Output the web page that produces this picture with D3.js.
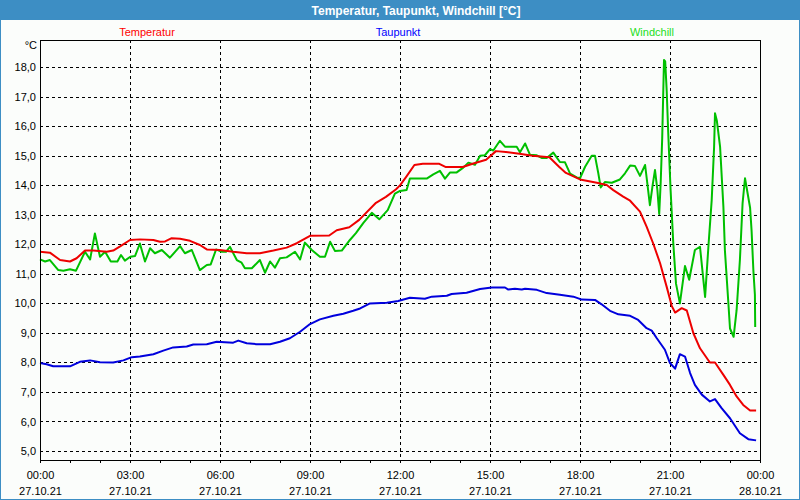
<!DOCTYPE html>
<html>
<head>
<meta charset="utf-8">
<script src="https://cdn.jsdelivr.net/npm/d3@7"></script>
<style>
  html, body { margin: 0; padding: 0; background: #ffffff; }
  svg { display: block; }
  text { font-family: "Liberation Sans", Arial, sans-serif; }
</style>
</head>
<body>
<svg id="chart" width="800" height="500"></svg>
<script>
// ---------------- data ----------------
const chartTitle = "Temperatur, Taupunkt, Windchill [°C]";
const seriesNames = ["Temperatur", "Taupunkt", "Windchill"];
const unitLabel = "°C";

const timeLabels = ["00:00","03:00","06:00","09:00","12:00","15:00","18:00","21:00","00:00"];
const dateLabels = ["27.10.21","27.10.21","27.10.21","27.10.21","27.10.21","27.10.21","27.10.21","27.10.21","28.10.21"];
const majorHours = [0,3,6,9,12,15,18,21,24];
const yTicks = [5,6,7,8,9,10,11,12,13,14,15,16,17,18];

// hours after 27.10.21 00:00
const tempHours = [0,0.33,0.67,1.0,1.22,1.5,1.78,2.22,2.44,2.67,3.0,3.33,3.78,4.0,4.17,4.39,4.67,5.0,5.33,5.56,
  6.0,6.44,6.89,7.33,7.78,8.22,8.56,9.0,9.64,9.89,10.31,10.64,11.2,11.53,11.87,12.0,12.2,12.48,12.76,13.31,
  13.53,14.09,14.42,14.87,15.2,15.53,15.98,16.42,16.98,17.31,17.53,18.0,18.56,18.89,19.11,19.44,19.67,20.0,20.22,20.44,
  20.67,20.89,21.06,21.17,21.39,21.56,21.78,22.0,22.33,22.5,22.78,23.0,23.22,23.44,23.67,23.87];
const tempValues = [11.75,11.72,11.47,11.42,11.53,11.79,11.79,11.75,11.79,11.93,12.15,12.17,12.15,12.09,12.1,12.21,12.19,12.12,11.98,11.83,
  11.81,11.75,11.70,11.70,11.79,11.89,12.04,12.29,12.30,12.48,12.58,12.83,13.41,13.61,13.87,14.0,14.28,14.69,14.73,14.73,
  14.62,14.62,14.73,14.87,15.16,15.13,15.07,15.0,14.95,14.62,14.42,14.2,14.09,14.01,13.84,13.62,13.48,13.11,12.6,12.03,
  11.36,10.56,9.91,9.69,9.84,9.76,8.99,8.48,8.0,8.0,7.58,7.24,6.85,6.56,6.37,6.37];

const dewHours = [0,0.22,0.44,1.0,1.33,1.67,2.0,2.44,2.78,3.06,3.33,3.78,4.11,4.44,4.89,5.11,5.56,5.89,6.44,6.61,
  6.89,7.22,7.67,8.0,8.33,8.67,9.0,9.33,9.78,10.11,10.44,10.67,11.0,11.56,11.94,12.33,12.83,13.06,13.56,13.72,
  14.22,14.67,15.06,15.5,15.61,15.83,16.06,16.17,16.56,16.89,17.33,17.78,18.06,18.5,18.72,19.0,19.28,19.67,19.94,20.22,
  20.39,20.56,20.83,21.0,21.17,21.33,21.5,21.67,21.83,22.06,22.33,22.5,22.72,23.0,23.33,23.61,23.87];
const dewValues = [7.98,7.94,7.87,7.87,8.02,8.07,8.01,8.0,8.07,8.18,8.2,8.28,8.4,8.51,8.54,8.61,8.62,8.7,8.67,8.74,
  8.65,8.62,8.62,8.7,8.82,9.04,9.3,9.46,9.58,9.65,9.75,9.83,10.0,10.02,10.08,10.19,10.16,10.23,10.26,10.32,
  10.36,10.49,10.54,10.54,10.47,10.5,10.47,10.5,10.46,10.35,10.29,10.23,10.13,10.12,9.97,9.75,9.63,9.58,9.44,9.16,
  9.08,8.82,8.43,7.98,7.79,8.28,8.2,7.64,7.24,6.91,6.68,6.76,6.45,6.11,5.6,5.4,5.36];

const chillHours = [0,0.17,0.33,0.61,0.78,1.0,1.2,1.5,1.67,1.83,2.0,2.17,2.36,2.58,2.7,2.83,3.01,3.17,3.33,3.5,
  3.67,3.83,4.06,4.33,4.67,4.83,5.06,5.33,5.56,5.69,5.87,6.06,6.2,6.33,6.56,6.72,6.83,7.06,7.33,7.5,
  7.67,7.83,8.0,8.22,8.5,8.67,8.83,9.06,9.33,9.5,9.67,9.83,10.06,10.33,10.53,10.78,11.06,11.31,11.59,11.83,
  12.0,12.22,12.33,12.89,13.11,13.33,13.5,13.67,13.89,14.11,14.28,14.5,14.67,14.83,15.0,15.11,15.33,15.5,15.89,16.0,
  16.17,16.33,16.56,16.72,16.89,17.11,17.33,17.5,17.67,17.89,18.0,18.17,18.39,18.5,18.61,18.69,18.83,19.06,19.33,19.5,
  19.67,19.83,20.0,20.17,20.24,20.33,20.42,20.5,20.58,20.64,20.69,20.74,20.8,20.84,20.89,20.94,21.02,21.11,21.2,21.33,
  21.5,21.64,21.83,22.0,22.17,22.28,22.39,22.47,22.5,22.56,22.67,22.78,22.83,22.94,23.0,23.12,23.22,23.33,23.42,23.5,
  23.67,23.72,23.78,23.83,23.84];
const chillValues = [11.49,11.42,11.47,11.13,11.11,11.16,11.11,11.75,11.49,12.37,11.58,11.75,11.42,11.42,11.64,11.45,11.58,11.61,12.03,11.42,
  11.87,11.7,11.81,11.55,11.94,11.7,11.81,11.13,11.3,11.32,11.83,11.75,11.75,11.92,11.47,11.38,11.19,11.19,11.47,11.04,
  11.42,11.21,11.53,11.56,11.75,11.49,12.06,11.81,11.58,11.58,12.09,11.78,11.79,12.15,12.38,12.73,13.07,12.85,13.16,13.72,
  13.81,13.84,14.23,14.23,14.37,14.49,14.23,14.44,14.44,14.6,14.77,14.7,15.0,15.02,15.23,15.18,15.51,15.31,15.31,15.12,
  15.42,15.04,15.02,14.93,14.93,15.11,14.79,14.78,14.4,14.27,14.24,14.63,15.0,15.0,14.41,13.93,14.11,14.09,14.2,14.41,
  14.67,14.66,14.32,14.69,14.1,13.33,14.0,14.52,13.84,13.03,14.1,15.6,18.25,18.2,17.2,15.8,13.84,12.03,10.67,10.0,
  11.27,10.8,11.81,11.92,10.22,11.92,13.5,15.3,16.44,16.2,15.3,13.27,11.8,10.1,9.15,8.87,9.77,11.47,13.4,14.24,
  13.24,12.45,11.1,10.3,9.2];

const seriesColors = ["#ee0000", "#0000dd", "#00c000"];
const legendColors = ["#ff0000", "#0000ff", "#22dd22"];

// ---------------- drawing ----------------
const W = 800, H = 500;
const m = { left: 40, right: 760, top: 40, bottom: 460 };
const svg = d3.select("#chart");

svg.append("rect").attr("x", 0).attr("y", 0).attr("width", W).attr("height", H).attr("fill", "#fbfdfb");
svg.append("rect").attr("x", 0).attr("y", 0).attr("width", W).attr("height", 20).attr("fill", "#3d8ec4");
svg.append("rect").attr("x", 0.5).attr("y", 0.5).attr("width", W - 1).attr("height", H - 1)
  .attr("fill", "none").attr("stroke", "#3d8ec4").attr("stroke-width", 1);

svg.append("text").attr("x", 416).attr("y", 15).attr("text-anchor", "middle")
  .attr("fill", "#ffffff").attr("font-weight", "bold").attr("font-size", 12)
  .text(chartTitle);

const x = d3.scaleLinear().domain([0, 24]).range([m.left, m.right]);
const y = d3.scaleLinear().domain([4.695, 18.925]).range([m.bottom, m.top]);

// legend
const legendX = [147, 398, 652];
seriesNames.forEach((n, i) => {
  svg.append("text").attr("x", legendX[i]).attr("y", 36).attr("text-anchor", "middle")
    .attr("font-size", 11).attr("fill", legendColors[i]).text(n);
});
svg.append("text").attr("x", 37).attr("y", 49).attr("text-anchor", "end")
  .attr("font-size", 11).attr("fill", "#000").text(unitLabel);

// grid
const grid = svg.append("g").attr("shape-rendering", "crispEdges");
grid.selectAll(".hg").data(yTicks).join("line")
  .attr("x1", m.left).attr("x2", m.right)
  .attr("y1", d => Math.round(y(d)) + 0.5).attr("y2", d => Math.round(y(d)) + 0.5)
  .attr("stroke", "#000").attr("stroke-width", 1).attr("stroke-dasharray", "3,3");
grid.selectAll(".vg").data(majorHours.slice(1, -1)).join("line")
  .attr("x1", d => Math.round(x(d)) + 0.5).attr("x2", d => Math.round(x(d)) + 0.5)
  .attr("y1", m.top).attr("y2", m.bottom)
  .attr("stroke", "#000").attr("stroke-width", 1).attr("stroke-dasharray", "3,3");

// y axis labels
const yAxis = d3.axisLeft(y).tickValues(yTicks).tickSize(0).tickPadding(4)
  .tickFormat(d => d3.format(".1f")(d).replace(".", ","));
const gy = svg.append("g").attr("transform", `translate(${m.left},0)`).call(yAxis);
gy.select(".domain").remove();
gy.selectAll("text").attr("font-size", 11).attr("font-family", "Liberation Sans, Arial, sans-serif").attr("fill", "#000");

// x axis: minor ticks every hour
const minor = d3.axisBottom(x).tickValues(d3.range(0, 25)).tickSize(3).tickFormat("");
const gmin = svg.append("g").attr("transform", `translate(0,${m.bottom})`).attr("shape-rendering", "crispEdges").call(minor);
gmin.select(".domain").remove();

const xAxis = d3.axisBottom(x).tickValues(majorHours).tickSize(3).tickPadding(8)
  .tickFormat((d, i) => timeLabels[i]);
const gx = svg.append("g").attr("transform", `translate(0,${m.bottom})`).attr("shape-rendering", "crispEdges").call(xAxis);
gx.select(".domain").remove();
gx.selectAll(".tick text").attr("font-size", 11).attr("font-family", "Liberation Sans, Arial, sans-serif").attr("fill", "#000")
  .each(function (d, i) {
    d3.select(this).append("tspan").attr("x", 0).attr("dy", "1.45em").text(dateLabels[i]);
  });

// lines
const line = d3.line().x(d => x(d[0])).y(d => y(d[1]));
const series = [
  d3.zip(tempHours, tempValues),
  d3.zip(dewHours, dewValues),
  d3.zip(chillHours, chillValues)
];
const lg = svg.append("g");
[2, 0, 1].forEach(i => {
  lg.append("path").datum(series[i]).attr("d", line)
    .attr("fill", "none").attr("stroke", seriesColors[i]).attr("stroke-width", 2)
    .attr("stroke-linejoin", "round");
});

// frame
svg.append("rect").attr("x", m.left + 0.5).attr("y", m.top + 0.5)
  .attr("width", m.right - m.left).attr("height", m.bottom - m.top)
  .attr("fill", "none").attr("stroke", "#000").attr("stroke-width", 1).attr("shape-rendering", "crispEdges");
</script>
</body>
</html>
